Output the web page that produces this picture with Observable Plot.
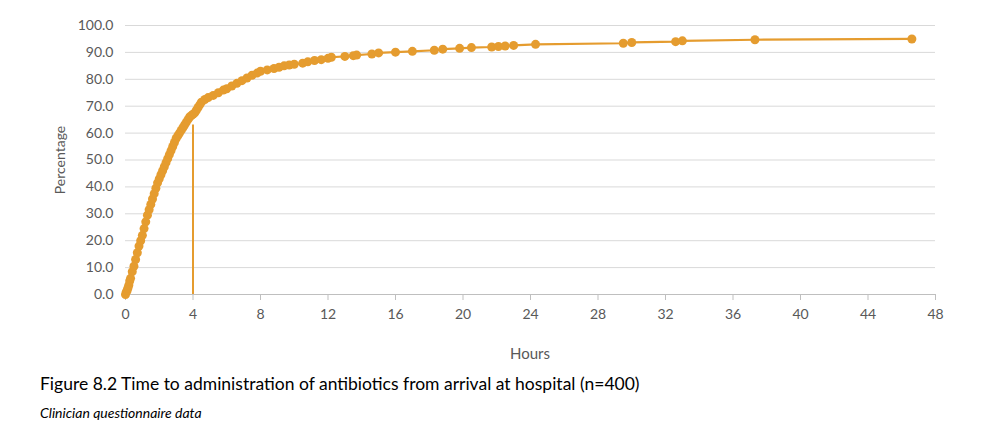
<!DOCTYPE html>
<html><head><meta charset="utf-8">
<script src="https://cdn.jsdelivr.net/npm/d3@7"></script>
<script src="https://cdn.jsdelivr.net/npm/@observablehq/plot@0.6"></script>
<style>
body{margin:0;background:#fff;font-family:Lato,"Open Sans",sans-serif;}
#wrap{width:995px;}
.xl{position:absolute;left:0;width:1060px;text-align:center;top:344px;font-size:15px;color:#595959;}
.t{position:absolute;left:40px;top:373px;font-size:17.5px;color:#000;}
.s{position:absolute;left:40px;top:404px;font-size:14px;font-style:italic;color:#000;}
</style></head><body>
<div id="wrap"></div>
<div class="xl">Hours</div>
<div class="t">Figure 8.2 Time to administration of antibiotics from arrival at hospital (n=400)</div>
<div class="s">Clinician questionnaire data</div>
<script>
const hours = [0,0.05,0.1,0.15,0.2,0.25,0.3,0.4,0.5,0.6,0.7,0.8,0.9,1.0,1.1,1.2,1.3,1.4,1.5,1.6,1.7,1.8,1.9,2.0,2.1,2.2,2.3,2.4,2.5,2.6,2.7,2.8,2.9,3.0,3.1,3.2,3.3,3.4,3.5,3.6,3.7,3.8,3.9,4.0,4.1,4.2,4.3,4.4,4.5,4.7,4.9,5.2,5.5,5.8,6.0,6.3,6.6,6.9,7.2,7.5,7.8,8.0,8.4,8.8,9.1,9.4,9.7,10.0,10.5,10.8,11.2,11.6,12.0,12.2,13.0,13.5,13.7,14.6,15.0,16.0,17.0,18.3,18.8,19.8,20.5,21.7,22.1,22.5,23.0,24.3,29.5,30.0,32.6,33.0,37.3,46.6];
const pct   = [0,1,1.5,2.5,3.5,5,6,8.5,10.5,13,15.5,18,20,22,24.5,27,29.5,31.5,33.5,35.5,37.5,39.5,41.5,43,44.5,46,47.5,49,50.5,52,53.5,55,56.5,58,59,60,61,62,63,64,65,66,66.5,67,67.5,68.5,69.5,70.5,71.5,72.5,73.2,74,75,76,76.5,77.5,78.5,79.5,80.5,81.5,82.3,83,83.5,84,84.5,85,85.3,85.6,86,86.5,87,87.3,87.8,88.2,88.5,88.8,89,89.4,89.8,90.1,90.4,90.8,91.2,91.5,91.8,92,92.2,92.4,92.6,93,93.4,93.7,94,94.3,94.7,95];
const markerHour = 4, markerPct = 63;
const data = hours.map((h,i)=>({h, p:pct[i]}));
const color = "#E59C2F";
const chart = Plot.plot({
  width:995, height:335, marginLeft:125, marginRight:60, marginTop:25, marginBottom:41,
  style:{fontFamily:"Lato, 'Open Sans', sans-serif", fontSize:"14px", color:"#595959"},
  x:{domain:[0,48], ticks:d3.range(0,49,4), label:null},
  y:{domain:[0,100], ticks:d3.range(0,101,10), tickFormat:d=>d.toFixed(1), label:"Percentage", labelAnchor:"center", labelArrow:"none", labelOffset:70},
  marks:[
    Plot.gridY(d3.range(10,101,10),{stroke:"#d9d9d9", strokeOpacity:1}),
    Plot.axisY({ticks:d3.range(0,101,10), tickFormat:d=>d.toFixed(1), tickSize:0, tickPadding:12, label:"Percentage", labelAnchor:"center", labelArrow:"none", labelOffset:70}),
    Plot.axisX({ticks:d3.range(0,49,4), tickSize:6, tickPadding:9, stroke:"#bfbfbf", label:null}),
    Plot.ruleY([0],{stroke:"#bfbfbf"}),
    Plot.ruleX([markerHour],{y1:0,y2:markerPct,stroke:color,strokeWidth:2}),
    Plot.line(data,{x:"h",y:"p",stroke:color,strokeWidth:2.2}),
    Plot.dot(data,{x:"h",y:"p",fill:color,r:4.5})
  ]
});
document.getElementById("wrap").appendChild(chart);
</script></body></html>
